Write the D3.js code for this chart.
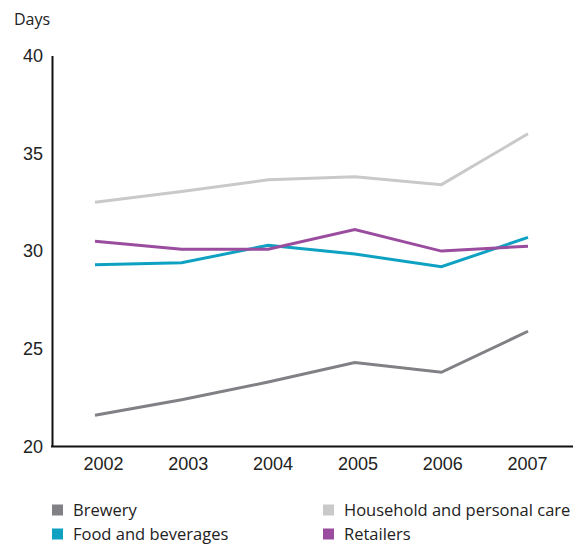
<!DOCTYPE html>
<html>
<head>
<meta charset="utf-8">
<script src="https://cdn.jsdelivr.net/npm/d3@7/dist/d3.min.js"></script>
<style>
  html, body { margin: 0; padding: 0; background: #fff; }
  svg { display: block; font-family: "Open Sans", "DejaVu Sans", sans-serif; }
</style>
</head>
<body>
<svg id="chart" width="580" height="545"></svg>
<script>
// Average days, by sector and year
const years = ["2002", "2003", "2004", "2005", "2006", "2007"];
const brewery   = [21.6, 22.4, 23.3, 24.3, 23.8, 25.9];
const household = [32.5, 33.05, 33.65, 33.8, 33.4, 36.0];
const food      = [29.3, 29.4, 30.3, 29.85, 29.2, 30.7];
const retailers = [30.5, 30.1, 30.1, 31.1, 30.0, 30.25];
const yTicks = [20, 25, 30, 35, 40];

const series = [
  { name: "Brewery", values: brewery, color: "#808085" },
  { name: "Household and personal care", values: household, color: "#c9c9c9" },
  { name: "Food and beverages", values: food, color: "#0ea1c2" },
  { name: "Retailers", values: retailers, color: "#9a4c9f" }
];
// Drawing order: the light lines sit behind the coloured ones
const drawOrder = ["Household and personal care", "Brewery", "Food and beverages", "Retailers"];

const svg = d3.select("#chart");
const axisLeftX = 52, axisBottomY = 446.6, axisTopY = 55.6, axisRightX = 573;

const x = d3.scalePoint().domain(years).range([95, 528]);
const xLabel = d3.scalePoint().domain(years).range([103, 527]);
const y = d3.scaleLinear().domain([20, 40]).range([axisBottomY, axisTopY]);

// Y axis
const yAxis = svg.append("g")
  .attr("transform", `translate(${axisLeftX},0)`)
  .call(d3.axisLeft(y).tickValues(yTicks).tickSize(0).tickPadding(9).tickFormat(d3.format("d")));
yAxis.select(".domain").attr("stroke", "#111").attr("stroke-width", 2);
yAxis.selectAll("text").attr("font-size", 18).attr("fill", "#222").attr("font-family", "inherit");

// X axis baseline
svg.append("line")
  .attr("x1", axisLeftX - 1).attr("x2", axisRightX)
  .attr("y1", axisBottomY).attr("y2", axisBottomY)
  .attr("stroke", "#111").attr("stroke-width", 2);

const xAxis = svg.append("g")
  .attr("transform", `translate(0,${axisBottomY})`)
  .call(d3.axisBottom(xLabel).tickSize(0).tickPadding(11));
xAxis.select(".domain").remove();
xAxis.selectAll("text").attr("font-size", 18).attr("fill", "#222").attr("font-family", "inherit");

// Unit label
svg.append("text").attr("x", 14).attr("y", 25)
  .attr("font-size", 16).attr("fill", "#222").text("Days");

// Lines
const line = d3.line().x((d, i) => x(years[i])).y(d => y(d));
drawOrder.forEach(n => {
  const s = series.find(t => t.name === n);
  svg.append("path")
    .datum(s.values)
    .attr("d", line)
    .attr("fill", "none")
    .attr("stroke", s.color)
    .attr("stroke-width", 3);
});

// Legend: two columns, two rows
const legendPos = [
  { x: 52, y: 510 }, { x: 323, y: 510 },
  { x: 52, y: 534 }, { x: 323, y: 534 }
];
series.forEach((s, i) => {
  const p = legendPos[i];
  const g = svg.append("g").attr("transform", `translate(${p.x},${p.y})`);
  g.append("rect").attr("x", 0).attr("y", -5.5).attr("width", 11).attr("height", 11).attr("fill", s.color);
  g.append("text").attr("x", 21).attr("y", 0).attr("dy", "0.35em")
    .attr("font-size", 16.5).attr("fill", "#222").text(s.name);
});
</script>
</body>
</html>
